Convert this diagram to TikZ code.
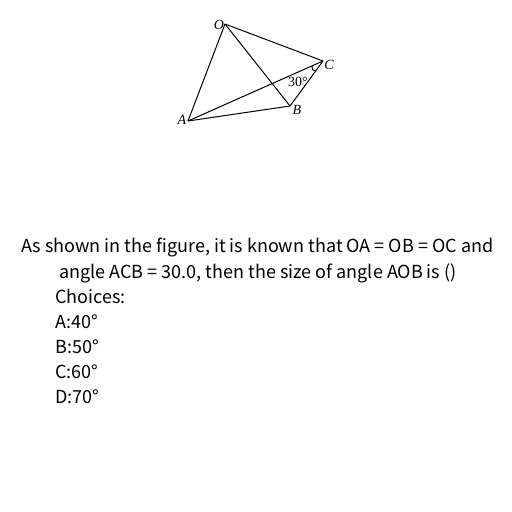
\documentclass[tikz,border=0pt]{standalone}
\usepackage{fontspec}
\setmainfont{Noto Sans CJK SC}
\newfontfamily\figfont{Liberation Serif}
\usepackage{tikz}

\begin{document}
\begin{tikzpicture}[x=1pt,y=-1pt,
    edge/.style={line width=1pt,draw},
    vertex/.style={font=\figfont\itshape\fontsize{14}{14}\selectfont,inner sep=0pt},
    line/.style={anchor=base west,inner sep=0pt,font=\fontsize{18}{18}\selectfont}]
    \useasboundingbox (0,0) rectangle (512,512);

    \coordinate (O) at (225,24);
    \coordinate (A) at (188,121);
    \coordinate (B) at (290,106);
    \coordinate (C) at (323,61);
    \coordinate (arca) at (312,66);
    \coordinate (arcb) at (316,71);

    \node[vertex] (lO) at (219,25) {O};
    \node[vertex] (lA) at (182,120) {A};
    \node[vertex] (lB) at (297,110) {B};
    \node[vertex] (lC) at (329,65) {C};
    \node[inner sep=0pt,font=\figfont\fontsize{14}{14}\selectfont] (angle) at (298,82) {30°};

    \path[edge] (O) -- (A);
    \path[edge] (O) -- (B);
    \path[edge] (O) -- (C);
    \path[edge] (A) -- (B);
    \path[edge] (A) -- (C);
    \path[edge] (B) -- (C);
    \path[edge] (arca) .. controls (312,70) and (314,71.5) .. (arcb);

    \node[line] (q1) at (21,252) {As shown in the figure, it is known that OA = OB = OC and};
    \node[line] (q2) at (59,278) {angle ACB = 30.0, then the size of angle AOB is ()};
    \node[line] (head) at (55,303) {Choices:};
    \node[line] (ca) at (55,328) {A:40°};
    \node[line] (cb) at (55,353) {B:50°};
    \node[line] (cc) at (55,378) {C:60°};
    \node[line] (cd) at (55,403) {D:70°};

  \end{tikzpicture}
\end{document}
